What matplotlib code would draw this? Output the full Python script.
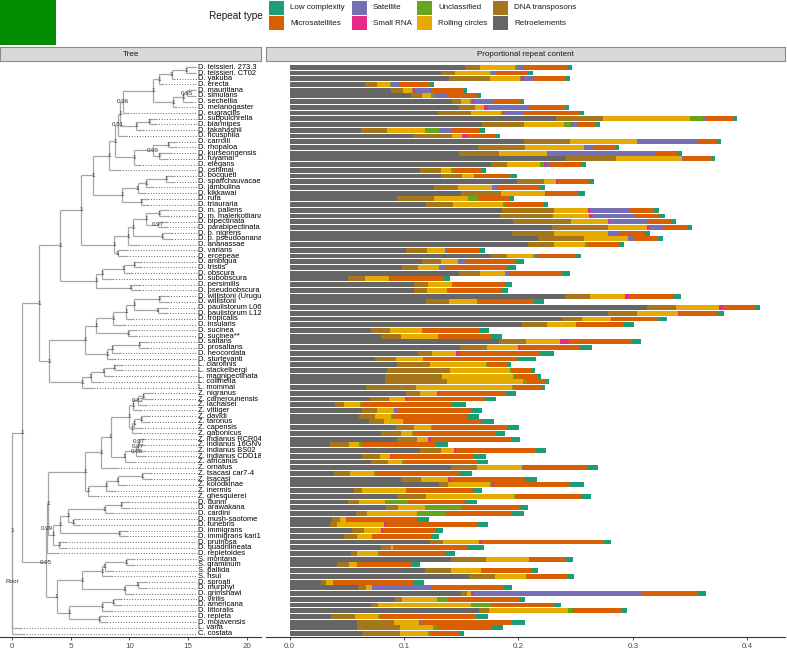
import numpy as np
import matplotlib.pyplot as plt
from matplotlib.collections import LineCollection
from matplotlib.patches import Rectangle

plt.rcParams['font.family'] = ['Liberation Sans', 'DejaVu Sans']

# ---- data -------------------------------------------------------------
repeat_types = ["Retroelements", "DNA transposons", "Rolling circles", "Unclassified",
                "Small RNA", "Satellite", "Microsatellites", "Low complexity"]
repeat_colors = ["#666666", "#A6761D", "#E6AB02", "#66A61E",
                 "#E7298A", "#7570B3", "#D95F02", "#1B9E77"]
legend_order = ["Low complexity", "Microsatellites", "Satellite", "Small RNA",
                "Unclassified", "Rolling circles", "DNA transposons", "Retroelements"]

species = [
    "D. teissieri. 273.3", "D. teissieri. CT02", "D. yakuba", "D. erecta", "D. mauritiana",
    "D. simulans", "D. sechellia", "D. melanogaster", "D. eugracilis", "D. subpulchrella",
    "D. biarmipes", "D. takahashii", "D. ficusphila", "D. carrolli", "D. rhopaloa",
    "D. kurseongensis", "D. fuyamai", "D. elegans", "D. oshimai", "D. bocqueti",
    "D. spaffchauvacae", "D. jambulina", "D. kikkawai", "D. rufa", "D. triauraria",
    "D. m. pallens", "D. m. malerkotliana", "D. bipectinata", "D. parabipectinata", "D. p. nigrens",
    "D. p. pseudoananassae", "D. ananassae", "D. varians", "D. ercepeae", "D. ambigua",
    "D. tristis", "D. obscura", "D. subobscura", "D. persimilis", "D. pseudoobscura",
    "D. willistoni (Uruguay)", "D. willistoni", "D. paulistorum L06", "D. paulistorum L12", "D. tropicalis",
    "D. insularis", "D. sucinea", "D. sucinea**", "D. saltans", "D. prosaltans",
    "D. neocordata", "D. sturtevanti", "L. clarofinis", "L. stackelbergi", "L. magnipectinata",
    "L. collinella", "L. mommai", "Z. nigranus", "Z. camerounensis", "Z. lachaisei",
    "Z. vittiger", "Z. davidi", "Z. taronus", "Z. capensis", "Z. gabonicus",
    "Z. indianus RCR04", "Z. indianus 16GNV0", "Z. indianus BS02", "Z. indianus CDD18", "Z. africanus",
    "Z. ornatus", "Z. tsacasi car7-4", "Z. tsacasi", "Z. kolodkinae", "Z. inermis",
    "Z. ghesquierei", "D. dunni", "D. arawakana", "D. cardini", "D. mush-saotome",
    "D. funebris", "D. immigrans", "D. immigrans kari17", "D. pruinosa", "D. quadrilineata",
    "D. repletoides", "S. montana", "S. graminum", "S. pallida", "S. hsui",
    "D. sproati", "D. murphyi", "D. grimshawi", "D. virilis", "D. americana",
    "D. littoralis", "D. repleta", "D. mojavensis", "L. varia", "C. costata",
]

# proportion of genome per repeat type, one value per species (same order)
retro = [0.153, 0.132, 0.139, 0.066, 0.089, 0.106, 0.142, 0.148, 0.130, 0.233,
         0.168, 0.062, 0.108, 0.205, 0.165, 0.148, 0.242, 0.176, 0.114, 0.132,
         0.199, 0.126, 0.150, 0.094, 0.119, 0.186, 0.184, 0.195, 0.229, 0.1945,
         0.217, 0.208, 0.102, 0.176, 0.116, 0.098, 0.148, 0.051, 0.109, 0.109,
         0.241, 0.119, 0.312, 0.278, 0.238, 0.203, 0.0716, 0.080, 0.183, 0.1487,
         0.1125, 0.0745, 0.0936, 0.085, 0.0838, 0.0832, 0.0664, 0.1014, 0.0707, 0.0397,
         0.0629, 0.0603, 0.069, 0.0928, 0.0797, 0.0936, 0.0354, 0.1136, 0.0629, 0.071,
         0.1412, 0.0391, 0.0971, 0.131, 0.0559, 0.0936, 0.051, 0.0841, 0.058, 0.0371,
         0.0354, 0.0545, 0.0475, 0.1223, 0.0797, 0.0536, 0.1414, 0.0417, 0.1188, 0.1565,
         0.0275, 0.0597, 0.1499, 0.0919, 0.071, 0.1658, 0.0365, 0.0591, 0.0591, 0.0632]
dna = [0.013, 0.013, 0.036, 0.010, 0.010, 0.010, 0.008, 0.014, 0.029, 0.041,
       0.037, 0.023, 0.034, 0.040, 0.041, 0.035, 0.043, 0.014, 0.018, 0.019,
       0.0235, 0.021, 0.035, 0.032, 0.0235, 0.045, 0.046, 0.051, 0.049, 0.0365,
       0.040, 0.0235, 0.018, 0.014, 0.016, 0.0145, 0.0185, 0.015, 0.012, 0.011,
       0.022, 0.020, 0.026, 0.026, 0.018, 0.0223, 0.0165, 0.017, 0.0238, 0.0238,
       0.0116, 0.0183, 0.0287, 0.055, 0.0496, 0.0548, 0.0438, 0.013, 0.016, 0.0078,
       0.0133, 0.0148, 0.0133, 0.0162, 0.018, 0.0177, 0.0168, 0.0191, 0.0159, 0.0148,
       0.0229, 0.0136, 0.0174, 0.0072, 0.007, 0.0258, 0.0101, 0.0107, 0.0099, 0.007,
       0.0061, 0.0104, 0.011, 0.0122, 0.009, 0.0052, 0.0304, 0.0101, 0.0223, 0.0229,
       0.0043, 0.0067, 0.0049, 0.0064, 0.0064, 0.0087, 0.0209, 0.0319, 0.0371, 0.033]
rolling = [0.031, 0.030, 0.026, 0.012, 0.008, 0.008, 0.008, 0.0075, 0.0255, 0.076,
           0.035, 0.033, 0.009, 0.059, 0.051, 0.042, 0.058, 0.029, 0.009, 0.010,
           0.010, 0.030, 0.038, 0.030, 0.044, 0.030, 0.032, 0.0325, 0.034, 0.047,
           0.039, 0.027, 0.016, 0.023, 0.015, 0.0185, 0.0215, 0.0206, 0.0206, 0.018,
           0.0304, 0.025, 0.0377, 0.0354, 0.0246, 0.0252, 0.028, 0.0325, 0.0293, 0.0272,
           0.0217, 0.0238, 0.0493, 0.0528, 0.0623, 0.0664, 0.0838, 0.0145, 0.0145, 0.0142,
           0.0154, 0.0139, 0.0168, 0.0145, 0.0093, 0.0096, 0.0087, 0.0113, 0.0093, 0.0125,
           0.0388, 0.0209, 0.0243, 0.0371, 0.0386, 0.0768, 0.022, 0.0232, 0.0435, 0.0052,
           0.0409, 0.0151, 0.0139, 0.0307, 0.0017, 0.0186, 0.0374, 0.0072, 0.0264, 0.0275,
           0.0064, 0.0058, 0.0041, 0.0307, 0.0812, 0.0687, 0.020, 0.0217, 0.0293, 0.0249]
unclassified = [0.002, 0.002, 0.0015, 0.0006, 0.001, 0.002, 0.0015, 0, 0.002, 0.011,
                0.006, 0.013, 0, 0, 0, 0, 0, 0.0035, 0.002, 0,
                0, 0, 0, 0.009, 0.003, 0, 0, 0, 0, 0,
                0, 0.002, 0, 0.0015, 0, 0, 0, 0, 0, 0,
                0, 0, 0, 0, 0, 0, 0, 0, 0, 0,
                0, 0, 0.0009, 0.0012, 0.0012, 0.0026, 0.0009, 0, 0, 0.0014,
                0, 0.0014, 0.0012, 0.0009, 0.0006, 0, 0.0014, 0, 0, 0.0012,
                0, 0.0009, 0, 0.0014, 0, 0.002, 0.020, 0.0322, 0.0249, 0,
                0, 0, 0, 0, 0, 0.0009, 0, 0, 0, 0,
                0, 0, 0, 0.0099, 0.0174, 0.0041, 0.0014, 0, 0.0032, 0.0017]
small_rna = [0, 0, 0.002, 0, 0.002, 0, 0.0015, 0.004, 0.002, 0,
             0.001, 0, 0.004, 0, 0, 0, 0, 0.002, 0, 0,
             0.002, 0, 0.001, 0, 0, 0.0015, 0.0035, 0.001, 0.002, 0,
             0, 0, 0, 0, 0, 0, 0, 0.0015, 0, 0,
             0.003, 0, 0.003, 0.0012, 0.0012, 0, 0, 0, 0.0078, 0.0014,
             0.0035, 0, 0, 0, 0, 0, 0, 0.0014, 0.0017, 0,
             0, 0, 0, 0, 0, 0.0026, 0, 0.0014, 0.0009, 0,
             0, 0, 0.0014, 0.002, 0, 0, 0, 0, 0, 0,
             0.002, 0.0017, 0, 0.0029, 0, 0, 0, 0, 0, 0,
             0, 0, 0.002, 0, 0, 0.0009, 0, 0.0012, 0, 0]
satellite = [0.005, 0.0035, 0.009, 0.008, 0.014, 0.012, 0.018, 0.037, 0.016, 0.002,
             0.004, 0.010, 0.0006, 0.053, 0.008, 0.094, 0.002, 0.0035, 0, 0,
             0, 0.005, 0, 0, 0, 0.034, 0.037, 0.033, 0.013, 0.011,
             0.005, 0, 0.002, 0.002, 0.006, 0.006, 0.0035, 0, 0, 0,
             0, 0.0005, 0, 0, 0, 0, 0, 0, 0, 0,
             0, 0, 0, 0, 0, 0, 0, 0, 0, 0,
             0.002, 0, 0, 0, 0, 0, 0, 0, 0, 0,
             0.002, 0, 0, 0, 0, 0, 0, 0, 0, 0,
             0, 0, 0, 0, 0, 0, 0, 0, 0, 0,
             0, 0.0516, 0.1461, 0, 0, 0, 0, 0.0014, 0, 0]
microsat = [0.039, 0.028, 0.028, 0.026, 0.028, 0.026, 0.023, 0.031, 0.049, 0.0255,
            0.017, 0.025, 0.024, 0.017, 0.019, 0.020, 0.024, 0.027, 0.024, 0.032,
            0.0275, 0.0365, 0.028, 0.0275, 0.032, 0.022, 0.0215, 0.021, 0.021, 0.022,
            0.021, 0.0275, 0.028, 0.034, 0.045, 0.053, 0.047, 0.0467, 0.0464, 0.0467,
            0.0386, 0.049, 0.0284, 0.0333, 0.0406, 0.042, 0.0493, 0.0478, 0.0545, 0.053,
            0.0699, 0.0823, 0.0177, 0.0174, 0.0203, 0.0171, 0.0246, 0.0588, 0.0678, 0.0777,
            0.0649, 0.0649, 0.0672, 0.0661, 0.073, 0.0699, 0.0652, 0.0701, 0.0725, 0.0646,
            0.0559, 0.0733, 0.0652, 0.0667, 0.0586, 0.0565, 0.0499, 0.0499, 0.058, 0.0623,
            0.0791, 0.0467, 0.0513, 0.107, 0.0658, 0.0577, 0.0328, 0.0481, 0.0446, 0.0368,
            0.0696, 0.0623, 0.0499, 0.0612, 0.0548, 0.0423, 0.0843, 0.0794, 0.047, 0.0255]
low_complexity = [0.0035, 0.004, 0.0035, 0.0035, 0.003, 0.0035, 0.003, 0.003, 0.004, 0.0026,
                  0.003, 0.005, 0.004, 0.003, 0.004, 0.004, 0.003, 0.004, 0.005, 0.0055,
                  0.004, 0.005, 0.006, 0.004, 0.004, 0.004, 0.004, 0.004, 0.004, 0.004,
                  0.004, 0.004, 0.005, 0.004, 0.007, 0.008, 0.0067, 0.0058, 0.006, 0.0064,
                  0.007, 0.009, 0.0043, 0.0058, 0.0072, 0.0084, 0.009, 0.0087, 0.0087, 0.010,
                  0.0119, 0.0162, 0.0029, 0.0029, 0.0026, 0.0026, 0.0041, 0.0087, 0.0096, 0.013,
                  0.0101, 0.0104, 0.011, 0.0096, 0.0081, 0.0081, 0.0107, 0.0084, 0.0104, 0.0096,
                  0.0087, 0.0119, 0.0107, 0.0122, 0.0081, 0.0087, 0.011, 0.0084, 0.0104, 0.0099,
                  0.0099, 0.0061, 0.007, 0.0061, 0.0139, 0.0084, 0.0061, 0.007, 0.0046, 0.0046,
                  0.0096, 0.0081, 0.007, 0.0061, 0.0061, 0.0046, 0.0107, 0.011, 0.011, 0.0043]

# ---- tree (newick, built clade by clade) ------------------------------
mel = ("(((('D. teissieri. 273.3':0.8,'D. teissieri. CT02':0.8)1:1.2,'D. yakuba':0.2)1:1.1,"
       "'D. erecta':0.4)1:0.5,((('D. mauritiana':0.8,'D. simulans':0.8)0.55:0.3,"
       "'D. sechellia':0.7)1:0.9,'D. melanogaster':0.3)1:1.7)1")
suz = "(('D. subpulchrella':0.6,'D. biarmipes':0.6)1:1.1,'D. takahashii':0.6)1"
rho = ("((('D. carrolli':0.7,'D. rhopaloa':0.7)1:1.3,('D. kurseongensis':1.0,'D. fuyamai':0.7)1:0.5)0.99:1.6,"
       "'D. elegans':0.5)1")
mel_grp = f"(((({mel}:2.55,'D. eugracilis':0.45)0.96:0.25,{suz}:1.4)1:0.2,'D. ficusphila':0.7)0.51:0.2,{rho}:1.6)1"
montium = ("(((('D. bocqueti':0.7,'D. spaffchauvacae':0.7)1:1.7,'D. jambulina':0.6)1:0.7,'D. kikkawai':0.6)1:1.3,"
           "('D. rufa':0.6,'D. triauraria':0.6)1:1.6)1")
ananassae = ("((((('D. m. pallens':0.8,'D. m. malerkotliana':0.8)1:1.1,('D. bipectinata':0.8,'D. parabipectinata':0.8)0.97:1.0)1:1.1,"
             "('D. p. nigrens':0.8,'D. p. pseudoananassae':0.8)1:2.5)1:0.4,'D. ananassae':0.9)1:1.2,"
             "('D. varians':0.8,'D. ercepeae':0.8)1:0.3)1")
obscura = ("(((('D. ambigua':0.6,'D. tristis':0.6)1:0.9,'D. obscura':0.7)1:1.8,'D. subobscura':0.9)1:0.5,"
           "('D. persimilis':0.8,'D. pseudoobscura':0.8)1:2.9)1")
sophophora = f"(((({mel_grp}:0.5,'D. oshimai':0.9)1:1.4,{montium}:2.5)1:1.0,{ananassae}:2.8)1:1.8,{obscura}:3.1)1"
willistoni = ("((((('D. willistoni (Uruguay)':0.8,'D. willistoni':0.8)1:2.1,('D. paulistorum L06':0.8,'D. paulistorum L12':0.8)1:2.0)1:0.7,"
              "'D. tropicalis':0.6)1:1.1,'D. insularis':1.0)1:1.4,('D. sucinea':0.7,'D. sucinea**':0.7)1:2.7)1")
saltans = "((('D. saltans':0.8,'D. prosaltans':0.8)1:2.3,'D. neocordata':0.7)1:0.4,'D. sturtevanti':0.7)1"
lordiphosa = ("(((('L. clarofinis':0.7,'L. stackelbergi':0.7)1:0.9,'L. magnipectinata':0.8)1:1.1,"
              "'L. collinella':0.8)1:0.7,'L. mommai':1.0)1")
sub_a = f"{sophophora}:1.8,(({willistoni}:1.0,{saltans}:1.9)1:3.0,{lordiphosa}:2.8)1:0.9"
zap_a = ("((((('Z. nigranus':0.7,'Z. camerounensis':0.7)1:0.5,'Z. lachaisei':0.7)0.82:0.4,'Z. vittiger':0.7)1:0.3,"
         "((('Z. davidi':0.7,'Z. taronus':0.7)1:0.6,'Z. capensis':0.7)1:0.2,'Z. gabonicus':0.8)1:0.2)1:1.6,"
         "(((('Z. indianus RCR04':0.5,'Z. indianus 16GNV0':0.5)0.97:0.1,'Z. indianus BS02':0.6)0.97:0.1,"
         "'Z. indianus CDD18':0.7)0.98:1.0,'Z. africanus':0.9)1:1.2)1")
zap_b = "(((('Z. tsacasi car7-4':0.7,'Z. tsacasi':0.7)1:2.1,'Z. kolodkinae':0.7)1:1.0,'Z. inermis':0.8)1:1.5,'Z. ghesquierei':0.8)1"
zaprionus = f"(({zap_a}:0.8,'Z. ornatus':1.4)1:1.4,{zap_b}:0.3)1"
immigrans = ("((((('D. dunni':0.7,'D. arawakana':0.7)1:1.4,'D. cardini':0.7)1:3.1,('D. mush-saotome':0.5,'D. funebris':0.5)1:0.4)1:0.7,"
             "('D. immigrans':0.7,'D. immigrans kari17':0.7)1:5.0)1:0.6,('D. pruinosa':0.6,'D. quadrilineata':0.6)1:0.5)1")
scapto = "((('S. montana':0.7,'S. graminum':0.7)1:1.8,'S. pallida':0.7)1:0.2,'S. hsui':0.8)1"
hawaii = "(('D. sproati':0.7,'D. murphyi':0.7)1:1.1,'D. grimshawi':0.7)1"
virep = "((('D. virilis':0.7,'D. americana':0.7)1:0.9,'D. littoralis':0.8)1:2.8,('D. repleta':0.7,'D. mojavensis':0.7)1:2.5)1"
sub_b = f"((({zaprionus}:3.1,{immigrans}:0.4)1:0.1,'D. repletoides':0.9)0.99:0.1,(({scapto}:1.7,{hawaii}:3.6)1:2.2,{virep}:1.1)1:0.9)0.95"
newick = f"(((({sub_a})1:1.4,{sub_b}:2.0)1:0.85,'L. varia':0.75)1:0.05,'C. costata':1.0)Root;"


def parse_newick(text):
    pos = 0

    def node():
        nonlocal pos
        n = {"name": "", "length": 0.0, "children": []}
        if text[pos] == "(":
            pos += 1
            n["children"].append(node())
            while text[pos] == ",":
                pos += 1
                n["children"].append(node())
            pos += 1
        if text[pos] == "'":
            end = text.index("'", pos + 1)
            n["name"] = text[pos + 1:end]
            pos = end + 1
        else:
            start = pos
            while text[pos] not in ":,);":
                pos += 1
            n["name"] = text[start:pos]
        if text[pos] == ":":
            pos += 1
            start = pos
            while text[pos] not in ",);":
                pos += 1
            n["length"] = float(text[start:pos])
        return n

    return node()


tree = parse_newick(newick)
tips = []


def layout(n, x0=0.0):
    n["x"] = x0 + n["length"]
    for c in n["children"]:
        layout(c, n["x"])
    if n["children"]:
        n["y"] = np.mean([c["y"] for c in n["children"]])
    else:
        tips.append(n)
        n["y"] = len(tips)


layout(tree)

branches, inner = [], []


def collect(n):
    if n["children"]:
        ys = [c["y"] for c in n["children"]]
        branches.append([(n["x"], min(ys)), (n["x"], max(ys))])
        inner.append(n)
        for c in n["children"]:
            branches.append([(n["x"], c["y"]), (c["x"], c["y"])])
            collect(c)


collect(tree)
align_x = max(t["x"] for t in tips)

# ---- figure -----------------------------------------------------------
W, H = 787, 649
fig = plt.figure(figsize=(W / 100, H / 100), dpi=100)

fig.add_artist(Rectangle((0, 1 - 45 / H), 56 / W, 45 / H, transform=fig.transFigure,
                         facecolor="#008B00", edgecolor="none"))

# legend: two rows, four columns, title on the left
fig.text(263 / W, 1 - 16 / H, "Repeat type", ha="right", va="center", fontsize=7.2, color="#1a1a1a")
key_x = [269, 352, 417, 493]
for i, name in enumerate(legend_order):
    col, row = divmod(i, 2)
    top = 0.5 + row * 15.8
    fig.add_artist(Rectangle((key_x[col] / W, 1 - (top + 14) / H), 15 / W, 14 / H,
                             transform=fig.transFigure, edgecolor="none",
                             facecolor=repeat_colors[repeat_types.index(name)]))
    fig.text((key_x[col] + 21) / W, 1 - (top + 7) / H, name, ha="left", va="center",
             fontsize=5.8, color="#1a1a1a")

panel_bottom, panel_h = 12 / H, 576 / H
ax_tree = fig.add_axes([0, panel_bottom, 261 / W, panel_h])
ax_bar = fig.add_axes([266 / W, panel_bottom, 519 / W, panel_h])

for x0, w, title in [(0, 261, "Tree"), (266, 519, "Proportional repeat content")]:
    s = fig.add_axes([x0 / W, (H - 61) / H, w / W, 14 / H])
    s.set_facecolor("#D9D9D9")
    s.set_xticks([])
    s.set_yticks([])
    for sp in s.spines.values():
        sp.set_color("#8c8c8c")
        sp.set_linewidth(0.8)
    s.text(0.5, 0.5, title, ha="center", va="center", fontsize=5.8, color="#1a1a1a",
           transform=s.transAxes)

# tree panel
ax_tree.add_collection(LineCollection(branches, colors="#a6a6a6", linewidths=0.9))
dots = [[(t["x"], t["y"]), (align_x + 0.05, t["y"])] for t in tips if t["x"] < align_x]
ax_tree.add_collection(LineCollection(dots, colors="#333333", linewidths=0.6, linestyles=(0, (1, 2.2))))
for t in tips:
    ax_tree.text(align_x + 0.12, t["y"], t["name"], ha="left", va="center", fontsize=5.4,
                 color="black", clip_on=True)
for n in inner:
    ax_tree.text(n["x"], n["y"], n["name"], ha="center", va="center", fontsize=4.5, color="#333333")

ax_tree.set_xlim(-1.01, 21.2)
ax_tree.set_ylim(100.6, -0.1)
ax_tree.set_xticks([0, 5, 10, 15, 20])

# bar panel
rows = np.arange(1, len(species) + 1)
series = [retro, dna, rolling, unclassified, small_rna, satellite, microsat, low_complexity]
left = np.zeros(len(species))
for vals, col in zip(series, repeat_colors):
    vals = np.array(vals)
    ax_bar.barh(rows, vals, left=left, height=0.85, color=col, edgecolor="none")
    left += vals

ax_bar.set_xlim(-0.0206, 0.433)
ax_bar.set_ylim(100.6, -0.1)
ax_bar.set_xticks([0.0, 0.1, 0.2, 0.3, 0.4])
ax_bar.set_xticklabels(["0.0", "0.1", "0.2", "0.3", "0.4"])

for ax in (ax_tree, ax_bar):
    ax.set_yticks([])
    for side in ("top", "right", "left"):
        ax.spines[side].set_visible(False)
    ax.spines["bottom"].set_color("#333333")
    ax.spines["bottom"].set_linewidth(0.8)
    ax.tick_params(axis="x", length=2.5, width=0.6, color="#333333", labelsize=5.8,
                   labelcolor="#4d4d4d", pad=1.5)

fig.savefig("out.png", dpi=100)
